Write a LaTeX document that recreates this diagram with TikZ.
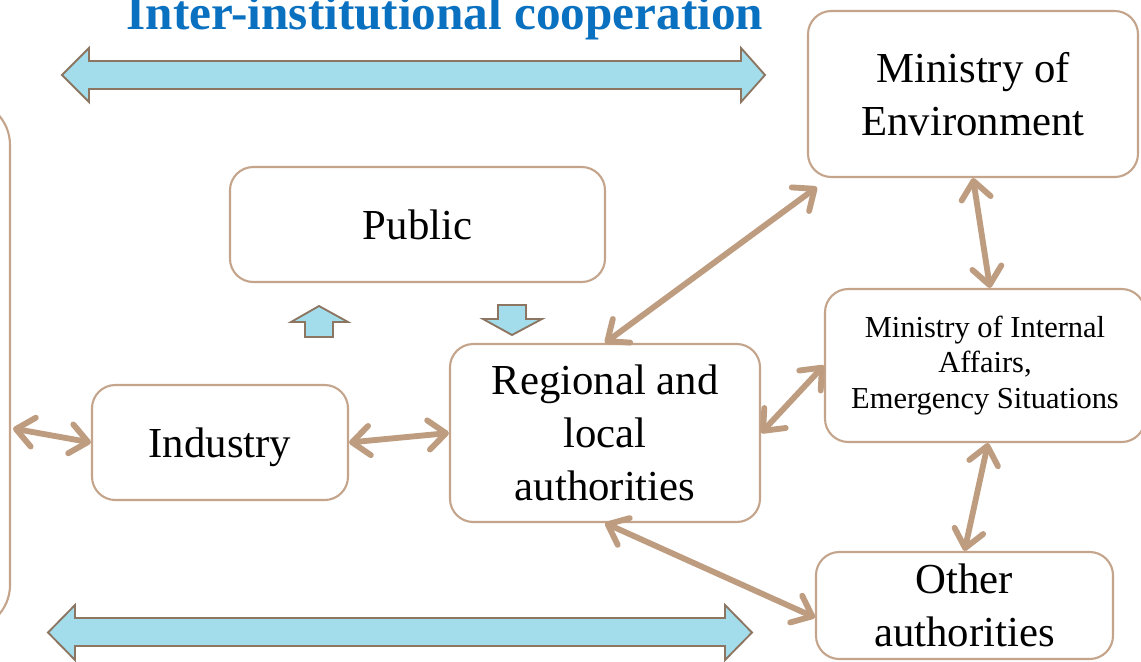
\documentclass[tikz,border=0pt]{standalone}
\usepackage{fontspec}
\setmainfont{Liberation Serif}
\usetikzlibrary{arrows.meta,calc}
\definecolor{boxc}{HTML}{C4A58C}
\definecolor{connc}{HTML}{BE9C80}
\definecolor{blk}{HTML}{A3DDEB}
\definecolor{blkline}{HTML}{8C7662}
\definecolor{titlec}{HTML}{0A70C0}
\begin{document}
\begin{tikzpicture}[x=0.03cm,y=-0.03cm,
  box/.style={draw=boxc, line width=1.8pt, rounded corners=0.7cm, fill=white, align=center, inner sep=0pt, font=\fontsize{36.5}{45}\selectfont},
  smallbox/.style={box, font=\fontsize{26}{30.5}\selectfont},
  barb/.tip={Straight Barb[length=15pt,width=25pt,round]},
  conn/.style={draw=connc, line width=5pt, line cap=round, barb-barb},
  blockarrow/.style={fill=blk, draw=blkline, line width=1.6pt, line join=miter}]
\clip (0,0) rectangle (1141,661);
\fill[white] (0,0) rectangle (1141,661);

% title
\node[anchor=base, text=titlec, font=\fontsize{42}{50}\selectfont\bfseries] (title) at (445,29) {Inter-institutional cooperation};

% block arrows
\draw[blockarrow] (62,75) -- (89,48) -- (89,61) -- (741,61) -- (741,48) -- (765,75) -- (741,102) -- (741,89) -- (89,89) -- (89,102) -- cycle;
\draw[blockarrow] (48,632.5) -- (75,605) -- (75,618) -- (725,618) -- (725,605) -- (752,632.5) -- (725,660) -- (725,646) -- (75,646) -- (75,660) -- cycle;
\draw[blockarrow] (319,306) -- (348,322) -- (333,322) -- (333,337) -- (305,337) -- (305,322) -- (291,322) -- cycle;
\draw[blockarrow] (498,305) -- (526,305) -- (526,319) -- (542,319) -- (512,335) -- (483,319) -- (498,319) -- cycle;

% boxes
\node[box, rounded corners=1.35cm, minimum width=9.3cm, minimum height=15.9cm] (lb) at (-145,365) {};
\node[box, minimum width=11.25cm, minimum height=3.45cm] (pub) at (417.5,224.5) {Public};
\node[box, minimum width=7.68cm, minimum height=3.45cm, text depth=-0.15cm] (ind) at (220,442.5) {Industry};
\node[box, minimum width=9.3cm, minimum height=5.34cm] (reg) at (605,433) {Regional and\\local\\authorities};
\node[box, minimum width=9.9cm, minimum height=4.98cm] (env) at (973,94) {Ministry of\\Environment};
\node[smallbox, minimum width=9.6cm, minimum height=4.59cm] (mia) at (985,365.5) {Ministry of Internal\\Affairs,\\Emergency Situations};
\node[box, minimum width=8.91cm, minimum height=3.21cm] (oth) at (964.5,605.5) {Other\\authorities};

% connectors
\coordinate (lbp) at ($(lb.east |- ind.west)+(2,-14)$);
\draw[conn] (lbp) -- (ind.west);
\draw[conn] (ind.east) -- (reg.west);
\draw[conn] (reg.north) -- ($(env.south west)+(10,9)$);
\draw[conn] (reg.east) -- (mia.west);
\draw[conn] (env.south) -- ($(mia.north)+(5,0)$);
\draw[conn] ($(mia.south)+(3,0)$) -- (oth.north);
\draw[conn] (reg.south) -- ($(oth.west)+(0,12)$);
\end{tikzpicture}
\end{document}
